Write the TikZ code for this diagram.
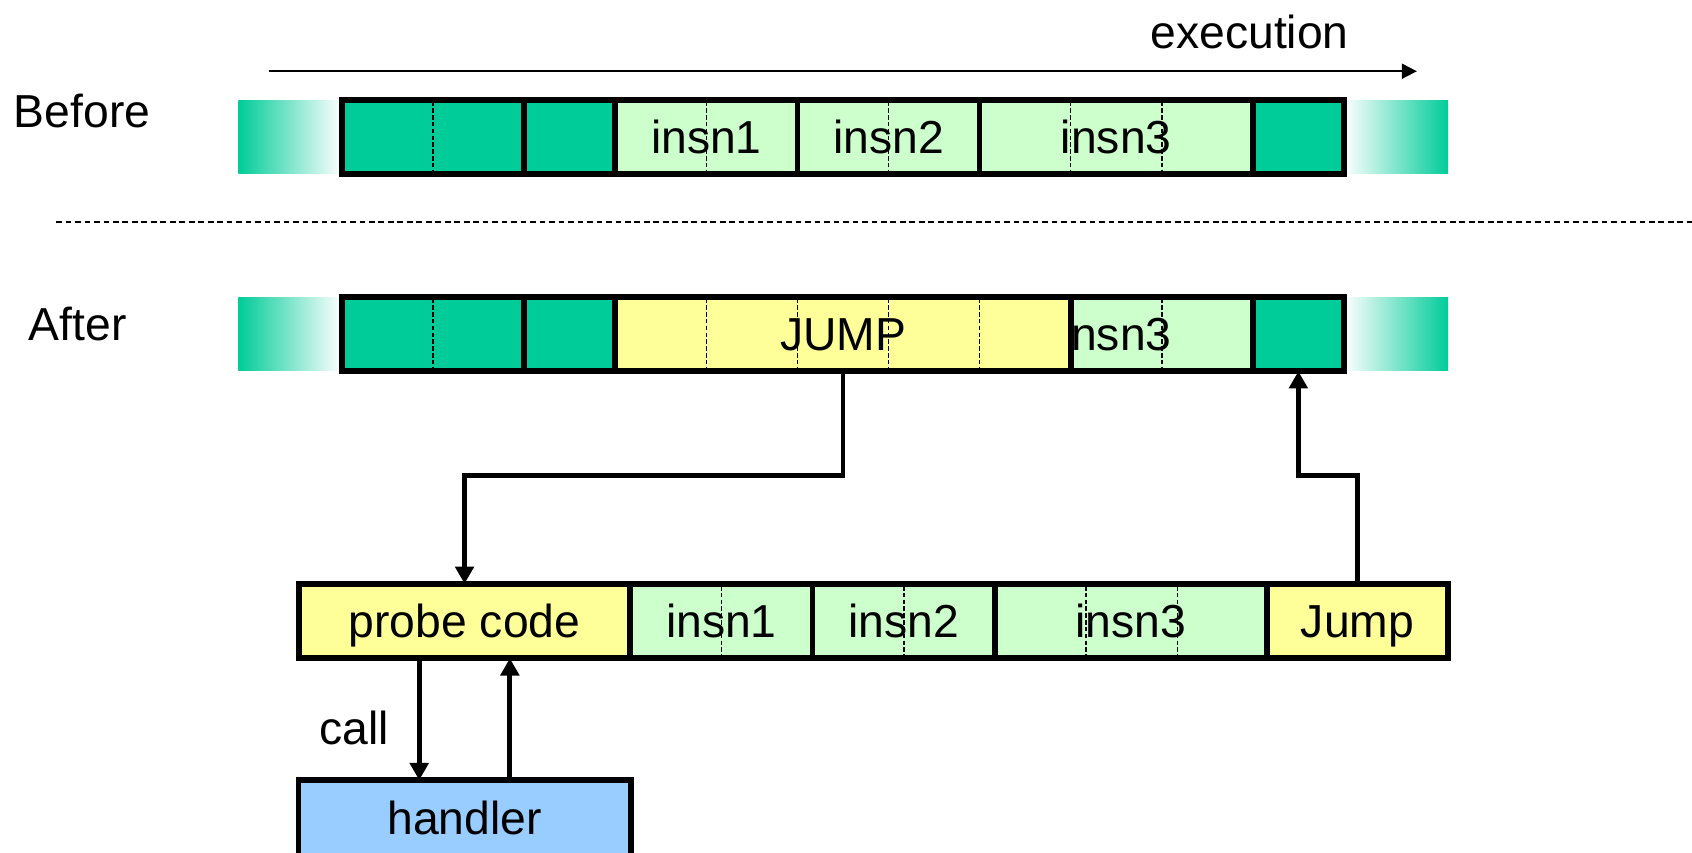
\documentclass[tikz,border=0pt]{standalone}
\usepackage{fontspec}
\setmainfont{Liberation Sans}
\usetikzlibrary{arrows.meta,positioning}
\definecolor{tealdark}{HTML}{00CC99}
\definecolor{greenlight}{HTML}{CCFFCC}
\definecolor{yellowlight}{HTML}{FFFF99}
\definecolor{bluelight}{HTML}{99CCFF}

\begin{document}
\begin{tikzpicture}[
  font=\fontsize{12.2}{14}\selectfont,
  cellbase/.style={draw=black, line width=1.5pt, outer sep=0pt, inner sep=0pt,
                   minimum height=0.69cm, text height=8.7pt, text depth=0pt},
  celldark/.style={cellbase, fill=tealdark},
  cellinsn/.style={cellbase, fill=greenlight},
  celljump/.style={cellbase, fill=yellowlight},
  cellhandler/.style={cellbase, fill=bluelight, minimum height=0.70cm},
  rotulo/.style={text height=8.7pt, text depth=0pt, inner sep=0pt},
  divide/.style={black, line width=0.4pt, dash pattern=on 1.2pt off 0.6pt},
  conn/.style={-{Triangle[length=1.6mm,width=1.7mm]}, line width=1.3pt},
  fadein/.style={left color=tealdark, right color=white},
  fadeout/.style={left color=white, right color=tealdark}
]
\useasboundingbox (0,0) rectangle (15.68,-7.90);

\coordinate (ex0) at (2.49,-0.66);
\coordinate (ex1) at (13.13,-0.66);
\draw[-{Triangle[length=1.4mm,width=1.4mm]}, line width=0.5pt] (ex0) -- (ex1);
\node[rotulo] (exec) at (11.58,-0.30) {execution};

\node[rotulo] (before) at (0.76,-1.03) {Before};
\shade[fadein] (2.21,-0.935) rectangle (3.17,-1.605);
\shade[fadeout] (12.45,-0.935) rectangle (13.42,-1.605);
\node[celldark, minimum width=1.688cm, anchor=west] (b1) at (3.17,-1.27) {};
\node[celldark, minimum width=0.844cm, right=0pt of b1] (b2) {};
\node[cellinsn, minimum width=1.688cm, right=0pt of b2] (b3) {insn1};
\node[cellinsn, minimum width=1.688cm, right=0pt of b3] (b4) {insn2};
\node[cellinsn, minimum width=2.532cm, right=0pt of b4] (b5) {insn3};
\node[celldark, minimum width=0.844cm, right=0pt of b5] (b6) {};
\foreach \x in {4.014,6.546,8.234,9.922,10.766}
  \draw[divide] (\x,-0.94) -- (\x,-1.60);

\coordinate (sep0) at (0.52,-2.06);
\coordinate (sep1) at (15.68,-2.06);
\draw[line width=0.6pt, dash pattern=on 1.5pt off 1pt] (sep0) -- (sep1);

\node[rotulo] (after) at (0.72,-3.00) {After};
\shade[fadein] (2.21,-2.76) rectangle (3.17,-3.43);
\shade[fadeout] (12.45,-2.76) rectangle (13.42,-3.43);
\node[celldark, minimum width=1.688cm, anchor=west] (a1) at (3.17,-3.095) {};
\node[celldark, minimum width=0.844cm, right=0pt of a1] (a2) {};
\node[cellinsn, minimum width=2.532cm, anchor=west] (a5) at (9.078,-3.095) {insn3};
\node[celljump, minimum width=4.22cm, right=0pt of a2] (a3) {JUMP};
\node[celldark, minimum width=0.844cm, right=0pt of a5] (a6) {};
\foreach \x in {4.014,6.546,7.39,8.234,9.078,10.766}
  \draw[divide] (\x,-2.765) -- (\x,-3.425);

\node[celljump, minimum width=3.07cm, anchor=west] (p1) at (2.77,-5.755) {probe code};
\node[cellinsn, minimum width=1.69cm, right=0pt of p1] (p2) {insn1};
\node[cellinsn, minimum width=1.69cm, right=0pt of p2] (p3) {insn2};
\node[cellinsn, minimum width=2.52cm, right=0pt of p3] (p4) {insn3};
\node[celljump, minimum width=1.68cm, right=0pt of p4] (p5) {Jump};
\foreach \x in {6.685,8.375,10.065,10.91}
  \draw[divide] (\x,-5.43) -- (\x,-6.08);

\node[cellhandler, minimum width=3.08cm, below=1.13cm of p1] (hd) {handler};

\draw[conn] (a3.south) -- ++(0,-0.97) -| (p1.north);
\draw[conn] (p5.north) -- ++(0,1.0) -| (a6.south);
\draw[conn] ([xshift=-0.42cm]p1.south) -- ([xshift=-0.42cm]hd.north);
\draw[conn] ([xshift=0.42cm]hd.north) -- ([xshift=0.42cm]p1.south);
\node[rotulo] (call) at (3.28,-6.75) {call};
\end{tikzpicture}
\end{document}
